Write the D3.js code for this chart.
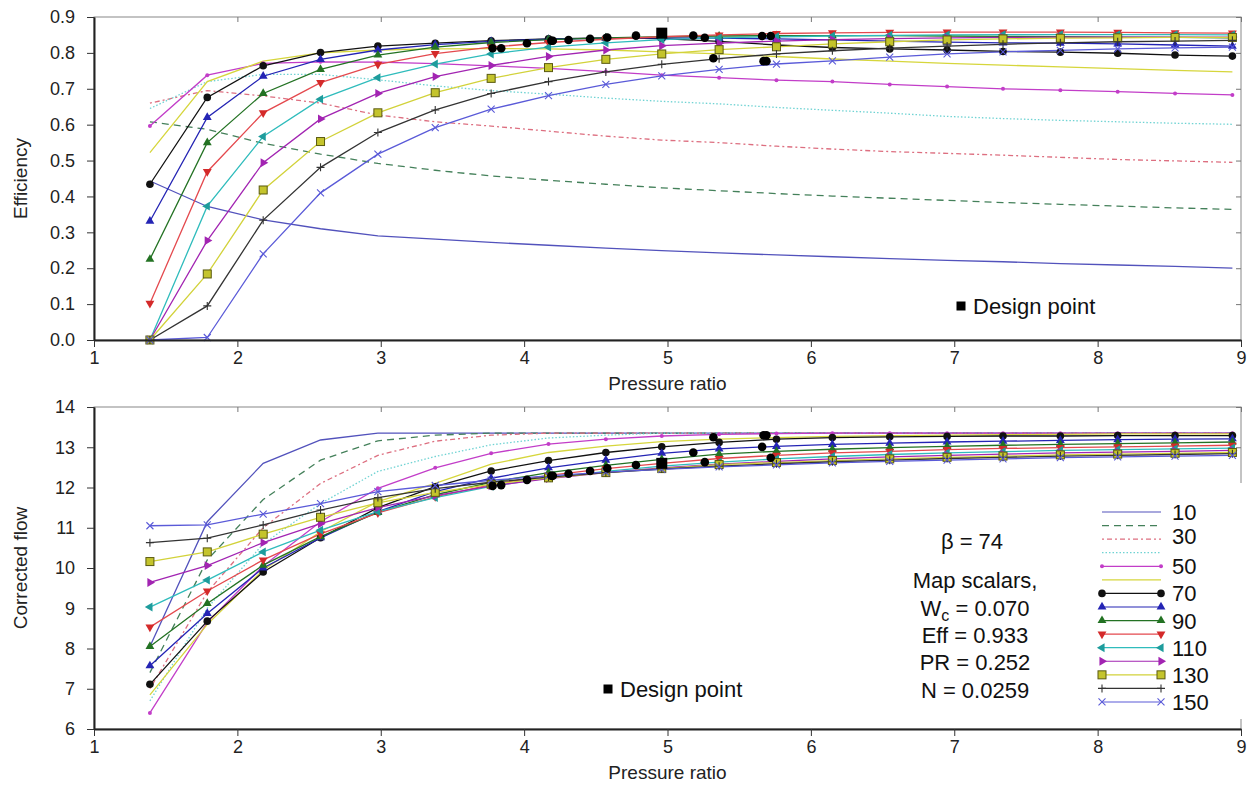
<!DOCTYPE html>
<html>
<head>
<meta charset="utf-8">
<script src="https://cdn.jsdelivr.net/npm/d3@7"></script>
<style>
  body { margin: 0; background: #fff; }
  svg { font-family: "Liberation Sans", Arial, sans-serif; }
  .axis text { font-size: 18px; fill: #222; }
  .axis line { stroke: #333; }
  .axis path { stroke: #222; stroke-width: 2px; }
  .series { fill: none; }
</style>
<title>Compressor map</title>
</head>
<body>
<script>
// ---- data ----
const pressureRatio = [1.39, 1.79, 2.18, 2.58, 2.98, 3.38, 3.77, 4.17, 4.57, 4.96,
                       5.36, 5.76, 6.15, 6.55, 6.95, 7.34, 7.74, 8.14, 8.54, 8.94];
const speeds = [10, 20, 30, 40, 50, 60, 70, 80, 90, 100, 110, 120, 130, 140, 150];

// efficiency per speed line
const eff10  = [0.443,0.372,0.335,0.31,0.29,0.281,0.272,0.264,0.256,0.249,0.243,0.237,0.232,0.227,0.222,0.218,0.213,0.209,0.205,0.2];
const eff20  = [0.608,0.587,0.548,0.518,0.492,0.473,0.457,0.445,0.434,0.424,0.416,0.408,0.401,0.395,0.389,0.383,0.378,0.373,0.368,0.364];
const eff30  = [0.66,0.695,0.68,0.66,0.627,0.608,0.596,0.582,0.568,0.557,0.55,0.54,0.532,0.525,0.52,0.515,0.509,0.503,0.499,0.495];
const eff40  = [0.645,0.72,0.74,0.74,0.725,0.708,0.695,0.685,0.674,0.665,0.658,0.648,0.64,0.632,0.623,0.617,0.612,0.608,0.604,0.601];
const eff50  = [0.596,0.738,0.771,0.775,0.774,0.77,0.764,0.757,0.748,0.738,0.731,0.724,0.72,0.712,0.706,0.7,0.696,0.692,0.687,0.683];
const eff60  = [0.522,0.72,0.777,0.8,0.808,0.811,0.812,0.811,0.808,0.803,0.797,0.79,0.783,0.777,0.771,0.766,0.761,0.756,0.751,0.747];
const eff70  = [0.434,0.676,0.764,0.801,0.819,0.827,0.834,0.839,0.842,0.84,0.832,0.822,0.815,0.811,0.808,0.804,0.802,0.799,0.794,0.791];
const eff80  = [0.331,0.62,0.735,0.782,0.808,0.823,0.832,0.838,0.841,0.842,0.841,0.839,0.836,0.833,0.83,0.828,0.827,0.825,0.822,0.819];
const eff90  = [0.225,0.55,0.687,0.754,0.794,0.816,0.829,0.837,0.842,0.845,0.847,0.848,0.848,0.848,0.847,0.846,0.845,0.844,0.843,0.842];
const eff100 = [0.102,0.469,0.633,0.717,0.768,0.798,0.816,0.829,0.838,0.845,0.85,0.854,0.856,0.857,0.858,0.858,0.858,0.857,0.856,0.855];
const eff110 = [0,0.373,0.567,0.671,0.731,0.769,0.797,0.816,0.828,0.837,0.842,0.845,0.847,0.849,0.85,0.851,0.851,0.851,0.851,0.85];
const eff120 = [0,0.277,0.494,0.616,0.687,0.734,0.765,0.79,0.808,0.82,0.827,0.833,0.837,0.84,0.842,0.843,0.844,0.844,0.844,0.844];
const eff130 = [0,0.184,0.418,0.553,0.633,0.689,0.729,0.759,0.782,0.797,0.809,0.817,0.825,0.831,0.836,0.839,0.841,0.842,0.843,0.843];
const eff140 = [0,0.095,0.334,0.481,0.578,0.641,0.687,0.72,0.747,0.768,0.784,0.797,0.806,0.813,0.819,0.824,0.828,0.831,0.833,0.835];
const eff150 = [0,0.007,0.24,0.41,0.518,0.592,0.643,0.681,0.712,0.736,0.754,0.769,0.778,0.788,0.797,0.803,0.807,0.811,0.814,0.816];

// corrected flow per speed line
const flow10  = [8.05,11.15,12.6,13.18,13.35,13.35,13.35,13.35,13.35,13.35,13.35,13.35,13.35,13.35,13.35,13.35,13.35,13.35,13.35,13.35];
const flow20  = [7.4,10.2,11.7,12.68,13.16,13.3,13.35,13.35,13.35,13.35,13.35,13.35,13.35,13.35,13.35,13.35,13.35,13.35,13.35,13.35];
const flow30  = [7.0,9.4,11.0,12.1,12.8,13.15,13.3,13.35,13.35,13.35,13.35,13.35,13.35,13.35,13.35,13.35,13.35,13.35,13.35,13.35];
const flow40  = [6.7,9.0,10.6,11.6,12.4,12.77,13.06,13.23,13.3,13.35,13.35,13.35,13.35,13.35,13.35,13.35,13.35,13.35,13.35,13.35];
const flow50  = [6.4,8.65,10.05,11.15,11.98,12.49,12.85,13.08,13.2,13.28,13.32,13.34,13.35,13.35,13.35,13.35,13.35,13.35,13.35,13.35];
const flow60  = [6.85,8.6,9.95,10.9,11.65,12.1,12.58,12.87,13.03,13.14,13.2,13.24,13.27,13.29,13.3,13.31,13.32,13.33,13.33,13.33];
const flow70  = [7.11,8.68,9.9,10.75,11.5,12.02,12.41,12.67,12.87,13.01,13.12,13.2,13.24,13.26,13.27,13.28,13.28,13.29,13.29,13.29];
const flow80  = [7.57,8.87,10.0,10.75,11.4,11.9,12.23,12.49,12.68,12.85,12.96,13.02,13.07,13.1,13.13,13.15,13.17,13.19,13.2,13.21];
const flow90  = [8.05,9.12,10.07,10.78,11.38,11.82,12.13,12.37,12.55,12.7,12.83,12.9,12.95,12.99,13.02,13.05,13.07,13.09,13.11,13.13];
const flow100 = [8.53,9.43,10.2,10.85,11.37,11.77,12.07,12.3,12.47,12.6,12.72,12.8,12.86,12.9,12.94,12.97,12.99,13.01,13.03,13.05];
const flow110 = [9.03,9.7,10.4,10.94,11.4,11.75,12.03,12.24,12.4,12.53,12.63,12.71,12.77,12.82,12.86,12.89,12.92,12.94,12.96,12.98];
const flow120 = [9.64,10.06,10.63,11.1,11.5,11.8,12.04,12.22,12.37,12.49,12.58,12.65,12.71,12.76,12.8,12.83,12.86,12.88,12.9,12.92];
const flow130 = [10.16,10.4,10.84,11.26,11.62,11.88,12.08,12.24,12.37,12.47,12.57,12.62,12.67,12.71,12.75,12.78,12.81,12.83,12.85,12.87];
const flow140 = [10.63,10.74,11.07,11.44,11.75,11.97,12.13,12.26,12.37,12.46,12.53,12.59,12.64,12.68,12.72,12.75,12.78,12.8,12.82,12.84];
const flow150 = [11.05,11.07,11.34,11.6,11.9,12.05,12.18,12.29,12.38,12.45,12.51,12.56,12.61,12.65,12.68,12.71,12.74,12.76,12.78,12.8];

// measured points (black dots)
const testPR   = [3.78,3.84,4.02,4.19,4.2,4.31,4.46,4.58,4.78,5.18,5.26,5.32,5.66,5.67,5.69,5.72];
const testEff  = [0.813,0.813,0.827,0.834,0.834,0.836,0.839,0.843,0.848,0.848,0.842,0.785,0.847,0.777,0.777,0.847];
const testFlow = [12.04,12.06,12.19,12.29,12.29,12.34,12.41,12.48,12.56,12.87,12.63,13.25,13.01,13.3,13.3,12.74];

// design point
const designPR = [4.96], designEff = [0.855], designFlow = [12.6];

// ticks and text
const xTicks = [1, 2, 3, 4, 5, 6, 7, 8, 9];
const effTicks = [0, 0.1, 0.2, 0.3, 0.4, 0.5, 0.6, 0.7, 0.8, 0.9];
const flowTicks = [6, 7, 8, 9, 10, 11, 12, 13, 14];
const legendLabels = ["10", "30", "50", "70", "90", "110", "130", "150"];

const effLines  = [eff10, eff20, eff30, eff40, eff50, eff60, eff70, eff80, eff90, eff100, eff110, eff120, eff130, eff140, eff150];
const flowLines = [flow10, flow20, flow30, flow40, flow50, flow60, flow70, flow80, flow90, flow100, flow110, flow120, flow130, flow140, flow150];

// ---- styles per speed line ----
const styles = [
  {color: "#5252bc", dash: null,        mark: null},
  {color: "#44805a", dash: "7,5",       mark: null},
  {color: "#dd6f80", dash: "2,3,5,3",   mark: null},
  {color: "#6fd3d3", dash: "1.5,2",     mark: null},
  {color: "#c23dc8", dash: null,        mark: "dot"},
  {color: "#d6d63c", dash: null,        mark: null},
  {color: "#111111", dash: null,        mark: "circle"},
  {color: "#2424b4", dash: null,        mark: "triUp"},
  {color: "#237223", dash: null,        mark: "triUp"},
  {color: "#e4494e", dash: null,        mark: "triDown", fill: "#d42a2a"},
  {color: "#2fbcbc", dash: null,        mark: "triLeft", fill: "#1e9c9c"},
  {color: "#a224b2", dash: null,        mark: "triRight"},
  {color: "#d2d23a", dash: null,        mark: "square", fill: "#c4c42c"},
  {color: "#333333", dash: null,        mark: "plus"},
  {color: "#5a5ad8", dash: null,        mark: "cross"}
];

const W = 1260, H = 790;
const svg = d3.select("body").append("svg").attr("width", W).attr("height", H);

const x = d3.scaleLinear().domain([1, 9]).range([94, 1241]);

function drawMarker(g, st, px, py) {
  const fill = st.fill || st.color;
  if (st.mark === "dot") {
    g.append("circle").attr("cx", px).attr("cy", py).attr("r", 2).attr("fill", fill);
  } else if (st.mark === "circle") {
    g.append("circle").attr("cx", px).attr("cy", py).attr("r", 3.8).attr("fill", fill);
  } else if (st.mark && st.mark.startsWith("tri")) {
    const rot = {triUp: 0, triDown: 180, triLeft: 270, triRight: 90}[st.mark];
    g.append("path").attr("d", d3.symbol().type(d3.symbolTriangle).size(34)())
      .attr("transform", `translate(${px},${py}) rotate(${rot})`)
      .attr("fill", fill);
  } else if (st.mark === "square") {
    g.append("rect").attr("x", px - 4).attr("y", py - 4).attr("width", 8).attr("height", 8)
      .attr("fill", fill).attr("stroke", "#5a5a10").attr("stroke-width", 1);
  } else if (st.mark === "plus") {
    g.append("path").attr("d", `M${px-4},${py}H${px+4}M${px},${py-4}V${py+4}`)
      .attr("stroke", st.color).attr("stroke-width", 1.1);
  } else if (st.mark === "cross") {
    g.append("path").attr("d", `M${px-3.5},${py-3.5}L${px+3.5},${py+3.5}M${px-3.5},${py+3.5}L${px+3.5},${py-3.5}`)
      .attr("stroke", st.color).attr("stroke-width", 1.1);
  }
}

function panel(y, ticks, fmt, lines, testVals, designVals, yLabel) {
  const top = y.range()[1], bottom = y.range()[0];
  // frame
  svg.append("rect").attr("x", 94).attr("y", top).attr("width", 1241 - 94).attr("height", bottom - top)
    .attr("fill", "none").attr("stroke", "#888").attr("stroke-width", 1);
  // inner ticks on top and right
  svg.append("g").attr("transform", `translate(0,${top})`)
    .call(d3.axisTop(x).tickValues(xTicks).tickSize(-5).tickFormat(""))
    .call(g => g.select(".domain").remove())
    .selectAll("line").attr("stroke", "#777");
  svg.append("g").attr("transform", "translate(1241,0)")
    .call(d3.axisRight(y).tickValues(ticks).tickSize(-5).tickFormat(""))
    .call(g => g.select(".domain").remove())
    .selectAll("line").attr("stroke", "#777");

  const line = d3.line().x((d, i) => x(pressureRatio[i])).y(d => y(d));
  lines.forEach((vals, k) => {
    const st = styles[k];
    svg.append("path").datum(vals).attr("class", "series")
      .attr("d", line).attr("stroke", st.color).attr("stroke-width", 1.3)
      .attr("stroke-dasharray", st.dash);
  });
  lines.forEach((vals, k) => {
    const g = svg.append("g");
    vals.forEach((v, i) => drawMarker(g, styles[k], x(pressureRatio[i]), y(v)));
  });
  // measured points
  svg.append("g").selectAll("circle").data(testPR).join("circle")
    .attr("cx", d => x(d)).attr("cy", (d, i) => y(testVals[i])).attr("r", 4.3).attr("fill", "#000");
  // design point
  svg.append("g").selectAll("rect").data(designPR).join("rect")
    .attr("x", d => x(d) - 5.5).attr("y", (d, i) => y(designVals[i]) - 5.5)
    .attr("width", 11).attr("height", 11).attr("fill", "#000");

  // axes
  svg.append("g").attr("class", "axis").attr("transform", `translate(0,${bottom})`)
    .call(d3.axisBottom(x).tickValues(xTicks).tickSize(7).tickPadding(4).tickSizeOuter(0));
  svg.append("g").attr("class", "axis").attr("transform", "translate(94,0)")
    .call(d3.axisLeft(y).tickValues(ticks).tickFormat(fmt).tickSize(7).tickPadding(12).tickSizeOuter(0));

  svg.append("text").attr("x", (94 + 1241) / 2).attr("y", bottom + 50)
    .attr("text-anchor", "middle").attr("font-size", 19).attr("fill", "#222").text("Pressure ratio");
  svg.append("text").attr("transform", `translate(27,${(top + bottom) / 2}) rotate(-90)`)
    .attr("text-anchor", "middle").attr("font-size", 19).attr("fill", "#222").text(yLabel);
}

const yEff = d3.scaleLinear().domain([0, 0.9]).range([340, 17]);
const yFlow = d3.scaleLinear().domain([6, 14]).range([729, 407]);

panel(yEff, effTicks, d3.format(".1f"), effLines, testEff, designEff, "Efficiency");
panel(yFlow, flowTicks, d3.format("d"), flowLines, testFlow, designFlow, "Corrected flow");

// "Design point" keys
function designKey(cx, cy) {
  svg.append("rect").attr("x", cx - 4.5).attr("y", cy - 4.5).attr("width", 9).attr("height", 9).attr("fill", "#000");
  svg.append("text").attr("x", cx + 12).attr("y", cy + 8).attr("font-size", 22).attr("fill", "#111").text("Design point");
}
designKey(961, 306);
designKey(608, 689);

// speed legend
const leg = svg.append("g");
leg.append("rect").attr("x", 1088).attr("y", 483).attr("width", 165).attr("height", 236).attr("fill", "#fff");
speeds.forEach((s, k) => {
  const ly = 512 + k * 13.57;
  const st = styles[k];
  leg.append("line").attr("x1", 1102).attr("x2", 1161).attr("y1", ly).attr("y2", ly)
    .attr("stroke", st.color).attr("stroke-width", 1.2).attr("stroke-dasharray", st.dash);
  drawMarker(leg, st, 1102, ly);
  drawMarker(leg, st, 1161, ly);
});
legendLabels.forEach((t, j) => {
  leg.append("text").attr("x", 1172).attr("y", 512 + j * 2 * 13.57 + 8 - (j === 1 ? 3 : 0))
    .attr("font-size", 22).attr("fill", "#111").text(t);
});

// map scalar notes
const notes = svg.append("g").attr("font-size", 22).attr("fill", "#111").attr("text-anchor", "middle");
notes.append("text").attr("x", 972).attr("y", 549).text("\u03b2 = 74");
notes.append("text").attr("x", 975).attr("y", 588).text("Map scalars,");
const wc = notes.append("text").attr("x", 975).attr("y", 616);
wc.append("tspan").text("W");
wc.append("tspan").attr("font-size", 16).attr("dy", 5).text("c");
wc.append("tspan").attr("dy", -5).text(" = 0.070");
notes.append("text").attr("x", 975).attr("y", 643).text("Eff = 0.933");
notes.append("text").attr("x", 975).attr("y", 670).text("PR = 0.252");
notes.append("text").attr("x", 975).attr("y", 698).text("N = 0.0259");
</script>
</body>
</html>
